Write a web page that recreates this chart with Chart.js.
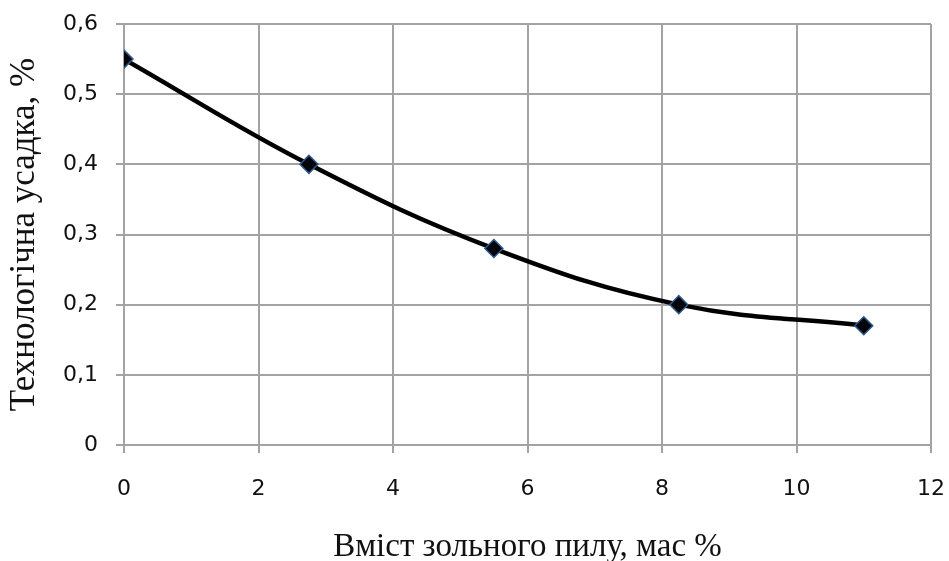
<!DOCTYPE html>
<html>
<head>
<meta charset="utf-8">
<script src="https://cdn.jsdelivr.net/npm/chart.js@4"></script>
<style>
    html, body { margin: 0; padding: 0; background: #fff; }
    #wrap { width: 949px; height: 561px; }
</style>
</head>
<body>
<div id="wrap"><canvas id="chart"></canvas></div>
<script>
// ash dust content (mass %) vs technological shrinkage (%)
const ashContent = [0, 2.75, 5.5, 8.25, 11];
const shrinkage = [0.55, 0.40, 0.28, 0.20, 0.17];
const xTicks = [0, 2, 4, 6, 8, 10, 12];
const yTicks = [0, 0.1, 0.2, 0.3, 0.4, 0.5, 0.6];

const xTitle = 'Вміст зольного пилу, мас %';
const yTitle = 'Технологічна усадка, %';

const gridColor = '#a3a3a3';
const textColor = '#111';

function commaNumber(v) {
    if (v === 0) return '0';
    return Number.isInteger(v) ? String(v) : v.toFixed(1).replace('.', ',');
}

window.renderShrinkageChart = function () {
    const ctx = document.getElementById('chart').getContext('2d');

    new Chart(ctx, {
        type: 'line',
        data: {
            datasets: [{
                data: ashContent.map((x, i) => ({ x: x, y: shrinkage[i] })),
                borderColor: '#000',
                borderWidth: 4.5,
                tension: 0.4,
                fill: false,
                pointStyle: 'rectRot',
                pointRadius: 9,
                pointBackgroundColor: '#05050c',
                pointBorderColor: '#2f5b8c',
                pointBorderWidth: 1.5
            }]
        },
        options: {
            responsive: true,
            maintainAspectRatio: false,
            animation: false,
            layout: { padding: { top: 24, right: 18, left: 0, bottom: 0 } },
            plugins: {
                legend: { display: false },
                tooltip: { enabled: false }
            },
            scales: {
                x: {
                    type: 'linear',
                    min: xTicks[0],
                    max: xTicks[xTicks.length - 1],
                    afterBuildTicks: (axis) => { axis.ticks = xTicks.map(v => ({ value: v })); },
                    afterFit: (axis) => {
                        axis.height = 116;
                        axis.paddingLeft = 0;
                        axis.paddingRight = 0;
                    },
                    grid: { color: gridColor, lineWidth: 2, tickLength: 8 },
                    border: { color: gridColor, width: 2 },
                    ticks: {
                        padding: 23,
                        color: textColor,
                        font: { family: 'DejaVu Sans', size: 22 },
                        maxRotation: 0,
                        callback: (v) => commaNumber(v)
                    },
                    title: {
                        display: true,
                        text: xTitle,
                        color: textColor,
                        font: { family: 'Liberation Serif', size: 33, lineHeight: 0.8 },
                        padding: { top: 0, bottom: 0 }
                    }
                },
                y: {
                    min: yTicks[0],
                    max: yTicks[yTicks.length - 1],
                    afterBuildTicks: (axis) => { axis.ticks = yTicks.map(v => ({ value: v })); },
                    afterFit: (axis) => {
                        axis.width = 124;
                        axis.paddingTop = 0;
                        axis.paddingBottom = 0;
                    },
                    grid: { color: gridColor, lineWidth: 2, tickLength: 8 },
                    border: { color: gridColor, width: 2 },
                    ticks: {
                        padding: 18,
                        color: textColor,
                        font: { family: 'DejaVu Sans', size: 22 },
                        callback: (v) => commaNumber(v)
                    },
                    title: {
                        display: true,
                        text: yTitle,
                        color: textColor,
                        font: { family: 'Liberation Serif', size: 35, lineHeight: 1.2 },
                        padding: { top: 4, bottom: 0 }
                    }
                }
            }
        }
    });
};

window.renderShrinkageChart();
</script>
</body>
</html>
